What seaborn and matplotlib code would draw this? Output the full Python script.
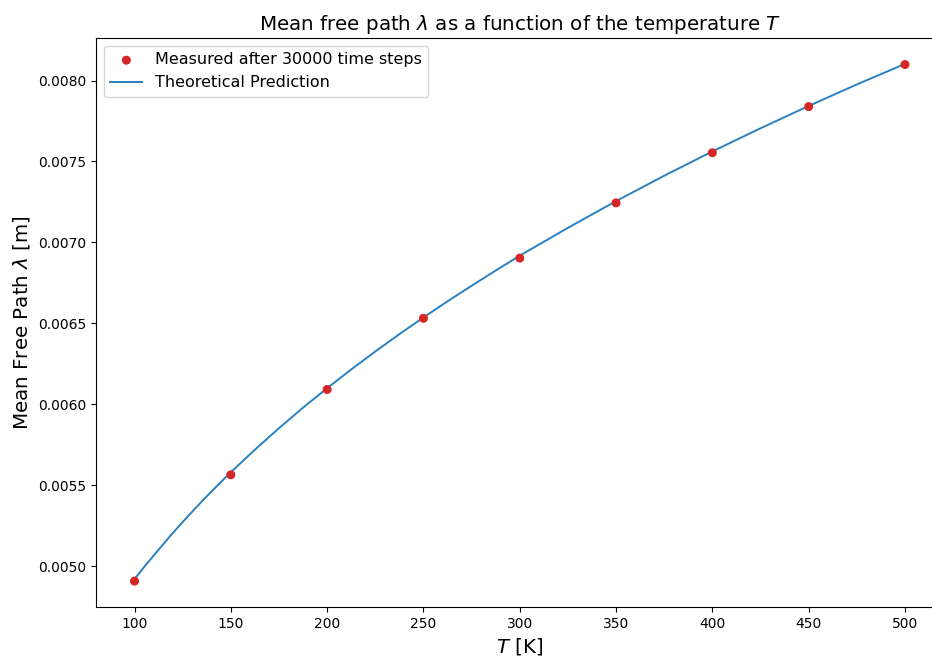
import matplotlib
matplotlib.use("Agg")
import matplotlib.pyplot as plt
import seaborn as sns
import pandas as pd

# Measured mean free path after 30000 time steps
temps_measured = [100, 150, 200, 250, 300, 350, 400, 450, 500]
mfp_measured = [0.004907, 0.005564, 0.006091, 0.006531, 0.006903,
                0.007244, 0.007554, 0.007839, 0.008099]

# Theoretical prediction sampled along the temperature range
temps_theory = [100, 106.25, 112.5, 118.75, 125, 131.25, 137.5, 143.75,
                150, 162.5, 175, 187.5, 200, 212.5, 225, 237.5, 250,
                262.5, 275, 287.5, 300, 325, 350, 375, 400, 425, 450,
                475, 500]
mfp_theory = [0.004920, 0.005013, 0.005101, 0.005189, 0.005272, 0.005353,
              0.005431, 0.005506, 0.005580, 0.005719, 0.005852, 0.005979,
              0.006099, 0.006215, 0.006326, 0.006433, 0.006536, 0.006636,
              0.006732, 0.006826, 0.006918, 0.007090, 0.007255, 0.007412,
              0.007562, 0.007705, 0.007843, 0.007976, 0.008103]

measured = pd.DataFrame({"T": temps_measured, "mfp": mfp_measured})
theory = pd.DataFrame({"T": temps_theory, "mfp": mfp_theory})

fig = plt.figure(figsize=(9.32, 6.6), dpi=100)
ax = fig.add_axes([96 / 932, 53 / 660, 847.5 / 932, 569 / 660])

sns.scatterplot(data=measured, x="T", y="mfp", ax=ax, color="#d62728",
                s=42, edgecolor="none", zorder=3,
                label="Measured after 30000 time steps")
sns.lineplot(data=theory, x="T", y="mfp", ax=ax, color="#2a80c0",
             linewidth=1.4, zorder=2, label="Theoretical Prediction")

ax.set_xlim(80, 520)
ax.set_ylim(0.004747, 0.008263)
ax.set_xticks([100, 150, 200, 250, 300, 350, 400, 450, 500])
ax.set_yticks([0.0050, 0.0055, 0.0060, 0.0065, 0.0070, 0.0075, 0.0080])
ax.set_yticklabels([f"{v:.4f}" for v in ax.get_yticks()])

ax.set_title(r"Mean free path $\lambda$ as a function of the temperature $T$",
             fontsize=14.3)
ax.set_xlabel(r"$T$ [K]", fontsize=14.3)
ax.set_ylabel(r"Mean Free Path $\lambda$ [m]", fontsize=14.3)
ax.legend(loc="upper left", fontsize=11.5)

fig.savefig("out.png", dpi=100)
